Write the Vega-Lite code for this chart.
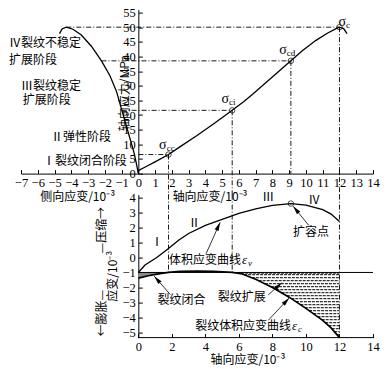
{
  "$schema": "https://vega.github.io/schema/vega-lite/v6.json",
  "padding": {"left": 8, "top": 5.6, "right": 0, "bottom": 0},
  "background": "white",
  "bounds": "flush",
  "spacing": 21,
  "config": {
    "view": {"stroke": null},
    "axis": {"grid": false, "domainColor": "#000", "tickColor": "#000", "labelColor": "#000", "labelFont": "Liberation Serif", "labelFontSize": 12.5, "tickSize": -4, "labelPadding": 7, "labelOverlap": false, "labelFlush": false, "domainWidth": 1, "tickWidth": 1},
    "text": {"font": "Noto Sans CJK SC", "fontSize": 12, "color": "#000", "baseline": "middle"}
  },
  "vconcat": [
    {
      "width": 352,
      "height": 164,
      "encoding": {
        "x": {"field": "x", "type": "quantitative", "scale": {"domain": [-7, 14], "nice": false, "zero": false}, "axis": {"title": null, "values": [-7, -6, -5, -4, -3, -2, -1, 0, 1, 2, 3, 4, 5, 6, 7, 8, 9, 10, 11, 12, 13, 14]}},
        "y": {"field": "y", "type": "quantitative", "scale": {"domain": [0, 56], "nice": false, "zero": false}, "axis": {"title": null, "values": [0, 5, 10, 15, 20, 25, 30, 35, 40, 45, 50, 55], "offset": -117.33}}
      },
      "layer": [
        {
          "data": {"values": [{"y": 6.5, "x": 0, "x2": 1.8}, {"y": 21.6, "x": -1.0, "x2": 5.6}, {"y": 38.5, "x": -2.2, "x2": 9.1}, {"y": 50, "x": -4.3, "x2": 12}]},
          "mark": {"type": "rule", "strokeDash": [5, 2, 1, 2], "strokeWidth": 0.9, "color": "#000"},
          "encoding": {"x2": {"field": "x2"}}
        },
        {
          "data": {"values": [{"x": 1.8, "y": 6.5, "y2": -7.3}, {"x": 5.6, "y": 21.6, "y2": -7.3}, {"x": 9.1, "y": 38.5, "y2": 0}, {"x": 12, "y": 50, "y2": -7.3}]},
          "mark": {"type": "rule", "strokeDash": [5, 2, 1, 2], "strokeWidth": 0.9, "color": "#000"},
          "encoding": {"y2": {"field": "y2"}}
        },
        {
          "data": {"values": [{"x": 0, "y": 0}, {"x": -0.1, "y": 3}, {"x": -0.25, "y": 7}, {"x": -0.45, "y": 11}, {"x": -0.7, "y": 16}, {"x": -1.0, "y": 22}, {"x": -1.3, "y": 28}, {"x": -1.7, "y": 33.5}, {"x": -2.2, "y": 38.5}, {"x": -2.8, "y": 43.5}, {"x": -3.4, "y": 47.3}, {"x": -3.9, "y": 49.3}, {"x": -4.3, "y": 50}, {"x": -4.55, "y": 49.4}, {"x": -4.7, "y": 47.8}]},
          "mark": {"type": "line", "color": "#000", "strokeWidth": 1.3},
          "encoding": {}
        },
        {
          "data": {"values": [{"x": 0, "y": 1}, {"x": 0.5, "y": 2.5}, {"x": 1, "y": 4}, {"x": 1.8, "y": 6.5}, {"x": 2.5, "y": 9.2}, {"x": 3.5, "y": 13}, {"x": 4.5, "y": 17}, {"x": 5.6, "y": 21.6}, {"x": 6.3, "y": 24.6}, {"x": 6.8, "y": 27}, {"x": 7.5, "y": 30.5}, {"x": 8.3, "y": 34.5}, {"x": 9.1, "y": 38.5}, {"x": 9.8, "y": 42}, {"x": 10.6, "y": 45.5}, {"x": 11.3, "y": 48}, {"x": 11.8, "y": 49.5}, {"x": 12, "y": 50}, {"x": 12.25, "y": 49.5}, {"x": 12.45, "y": 47.8}]},
          "mark": {"type": "line", "color": "#000", "strokeWidth": 1.3},
          "encoding": {}
        },
        {
          "data": {"values": [{"x": 1.8, "y": 6.5}, {"x": 5.6, "y": 21.6}, {"x": 9.1, "y": 38.5}, {"x": 12, "y": 50}]},
          "mark": {"type": "point", "shape": "circle", "filled": false, "color": "#000", "size": 30, "strokeWidth": 1}
        },
        {
          "data": {"values": [{"x": 1.69, "y": 9.73, "sub": "cc"}, {"x": 5.41, "y": 25.34, "sub": "ci"}, {"x": 8.85, "y": 42.17, "sub": "cd"}, {"x": 12.39, "y": 51.83, "sub": "c"}]},
          "layer": [
            {"mark": {"type": "text", "text": "σ", "align": "right", "font": "Liberation Serif", "fontSize": 14}},
            {"mark": {"type": "text", "align": "left", "font": "Liberation Serif", "fontSize": 9, "dy": 3}, "encoding": {"text": {"field": "sub"}}}
          ]
        },
        {
          "data": {"values": [{"x": -7.716, "y": 44.56, "t": "Ⅳ裂纹不稳定"}, {"x": -7.716, "y": 38.76, "t": "扩展阶段"}, {"x": -7.0, "y": 29.88, "t": "Ⅲ裂纹稳定"}, {"x": -6.9, "y": 25.1, "t": "扩展阶段"}, {"x": -5.21, "y": 12.46, "t": "Ⅱ弹性阶段"}, {"x": -5.69, "y": 4.27, "t": "Ⅰ裂纹闭合阶段"}]},
          "mark": {"type": "text", "align": "left"},
          "encoding": {"text": {"field": "t"}}
        },
        {
          "data": {"values": [{"x": -3.62, "y": -7.9, "t": "侧向应变/10⁻³"}, {"x": 4.28, "y": -7.9, "t": "轴向应变/10⁻³"}]},
          "mark": {"type": "text", "align": "center"},
          "encoding": {"text": {"field": "t"}}
        },
        {
          "data": {"values": [{"x": -0.8, "y": 27.5, "t": "轴向应力/MPa"}]},
          "mark": {"type": "text", "align": "center", "angle": 270},
          "encoding": {"text": {"field": "t"}}
        }
      ]
    },
    {
      "width": 352,
      "height": 143,
      "encoding": {
        "x": {"field": "x", "type": "quantitative", "scale": {"domain": [-7, 14], "nice": false, "zero": false}, "axis": {"title": null, "values": [0, 2, 4, 6, 8, 10, 12, 14], "domain": false}},
        "y": {"field": "y", "type": "quantitative", "scale": {"domain": [-5.35, 4.2], "nice": false, "zero": false}, "axis": {"title": null, "values": [-5, -4, -3, -2, -1, 0, 1, 2, 3, 4], "offset": -117.33}}
      },
      "layer": [
        {
          "data": {"values": [{"y": -1.05, "x": 5.9, "x2": 12}, {"y": -1.15, "x": 6.31, "x2": 12}, {"y": -1.35, "x": 6.77, "x2": 12}, {"y": -1.55, "x": 7.18, "x2": 12}, {"y": -1.75, "x": 7.55, "x2": 12}, {"y": -1.95, "x": 7.91, "x2": 12}, {"y": -2.15, "x": 8.23, "x2": 12}, {"y": -2.35, "x": 8.54, "x2": 12}, {"y": -2.55, "x": 8.85, "x2": 12}, {"y": -2.75, "x": 9.13, "x2": 12}, {"y": -2.95, "x": 9.4, "x2": 12}, {"y": -3.15, "x": 9.67, "x2": 12}, {"y": -3.35, "x": 9.93, "x2": 12}, {"y": -3.55, "x": 10.19, "x2": 12}, {"y": -3.75, "x": 10.44, "x2": 12}, {"y": -3.95, "x": 10.69, "x2": 12}, {"y": -4.15, "x": 10.94, "x2": 12}, {"y": -4.35, "x": 11.15, "x2": 12}, {"y": -4.55, "x": 11.35, "x2": 12}, {"y": -4.75, "x": 11.54, "x2": 12}, {"y": -4.95, "x": 11.69, "x2": 12}, {"y": -5.15, "x": 11.85, "x2": 12}, {"y": -5.3, "x": 11.96, "x2": 12}]},
          "mark": {"type": "rule", "color": "#333", "strokeWidth": 1.3, "strokeDash": [3, 1]},
          "encoding": {"x2": {"field": "x2"}}
        },
        {
          "data": {"values": [{"x": 0, "y": -1.38, "y2": -1}, {"x": 0.6, "y": -1.22, "y2": -1}, {"x": 1.2, "y": -1.1, "y2": -1}, {"x": 1.8, "y": -1.0, "y2": -1}]},
          "mark": {"type": "area", "color": "#888"},
          "encoding": {"y2": {"field": "y2"}}
        },
        {
          "data": {"values": [{"y": -1, "x": 0, "x2": 14}, {"y": -5.35, "x": 0, "x2": 14}]},
          "mark": {"type": "rule", "color": "#000", "strokeWidth": 1},
          "encoding": {"x2": {"field": "x2"}}
        },
        {
          "data": {"values": [{"x": 1.8, "y": 4.2, "y2": -1}, {"x": 5.6, "y": 4.2, "y2": -1}, {"x": 12, "y": 4.2, "y2": -5.35}]},
          "mark": {"type": "rule", "strokeDash": [5, 2, 1, 2], "strokeWidth": 0.9, "color": "#000"},
          "encoding": {"y2": {"field": "y2"}}
        },
        {
          "data": {"values": [{"x": 0, "y": -1}, {"x": 0.4, "y": -0.5}, {"x": 1.1, "y": 0}, {"x": 1.8, "y": 0.6}, {"x": 2.4, "y": 1.15}, {"x": 3, "y": 1.6}, {"x": 4, "y": 2.15}, {"x": 5, "y": 2.55}, {"x": 6, "y": 2.95}, {"x": 7, "y": 3.25}, {"x": 8, "y": 3.48}, {"x": 9.1, "y": 3.6}, {"x": 10, "y": 3.5}, {"x": 11, "y": 3.2}, {"x": 11.5, "y": 2.9}, {"x": 12, "y": 2.4}]},
          "mark": {"type": "line", "color": "#000", "strokeWidth": 1.3},
          "encoding": {}
        },
        {
          "data": {"values": [{"x": 0, "y": -1.38}, {"x": 0.6, "y": -1.22}, {"x": 1.2, "y": -1.1}, {"x": 1.8, "y": -1.0}, {"x": 2.5, "y": -0.93}, {"x": 3.5, "y": -0.91}, {"x": 4.5, "y": -0.93}, {"x": 5.6, "y": -1.0}, {"x": 6.2, "y": -1.1}, {"x": 7, "y": -1.45}, {"x": 8, "y": -2.0}, {"x": 9, "y": -2.65}, {"x": 10, "y": -3.4}, {"x": 11, "y": -4.2}, {"x": 11.5, "y": -4.7}, {"x": 12, "y": -5.35}]},
          "mark": {"type": "line", "color": "#000", "strokeWidth": 1.7},
          "encoding": {}
        },
        {
          "data": {"values": [{"x": 9.1, "y": 3.6}]},
          "mark": {"type": "point", "shape": "circle", "filled": false, "color": "#000", "size": 30, "strokeWidth": 1}
        },
        {
          "data": {"values": [{"x": 10.17, "y": 2.14, "x2": 9.24, "y2": 3.42, "a": 321}, {"x": 4.04, "y": 0.25, "x2": 4.88, "y2": 2.35, "a": 24}, {"x": 1.91, "y": -2.48, "x2": 0.95, "y2": -1.25, "a": 319}, {"x": 7.75, "y": -2.5, "x2": 8.55, "y2": -1.7, "a": 48}, {"x": 7.75, "y": -4.2, "x2": 9.0, "y2": -2.7, "a": 43}]},
          "layer": [
            {"mark": {"type": "rule", "color": "#000", "strokeWidth": 0.8}, "encoding": {"x2": {"field": "x2"}, "y2": {"field": "y2"}}},
            {"mark": {"type": "point", "shape": "M0,0L0.35,1.4L-0.35,1.4Z", "filled": true, "color": "#000", "size": 150, "opacity": 1}, "encoding": {"x": {"field": "x2", "type": "quantitative"}, "y": {"field": "y2", "type": "quantitative"}, "angle": {"field": "a", "type": "quantitative", "scale": null}}}
          ]
        },
        {
          "data": {"values": [{"x": 1.11, "y": 1.04, "t": "Ⅰ"}, {"x": 3.34, "y": 2.27, "t": "Ⅱ"}, {"x": 7.75, "y": 4.05, "t": "Ⅲ"}, {"x": 10.5, "y": 3.83, "t": "Ⅳ"}, {"x": 10.3, "y": 1.71, "t": "扩容点"}, {"x": 2.58, "y": -2.81, "t": "裂纹闭合"}, {"x": 6.17, "y": -2.62, "t": "裂纹扩展"}, {"x": 6.54, "y": -6.86, "t": "轴向应变/10⁻³"}]},
          "mark": {"type": "text", "align": "center"},
          "encoding": {"text": {"field": "t"}}
        },
        {
          "data": {"values": [{"x": 6.12, "y": -0.18, "t": "体积应变曲线", "s": "v"}, {"x": 9.11, "y": -4.57, "t": "裂纹体积应变曲线", "s": "c"}]},
          "layer": [
            {"mark": {"type": "text", "align": "right"}, "encoding": {"text": {"field": "t"}}},
            {"mark": {"type": "text", "align": "left", "text": "ε", "font": "Liberation Serif", "fontStyle": "italic", "fontSize": 13, "dx": 1}},
            {"mark": {"type": "text", "align": "left", "font": "Liberation Serif", "fontStyle": "italic", "fontSize": 9, "dx": 7, "dy": 3}, "encoding": {"text": {"field": "s"}}}
          ]
        },
        {
          "data": {"values": [{"x": -2.17, "y": 1.82, "t": "—压缩→"}, {"x": -1.51, "y": -1.25, "t": "应变/10⁻³"}, {"x": -2.17, "y": -3.72, "t": "←膨胀—"}]},
          "mark": {"type": "text", "align": "center", "angle": 270},
          "encoding": {"text": {"field": "t"}}
        }
      ]
    }
  ]
}
